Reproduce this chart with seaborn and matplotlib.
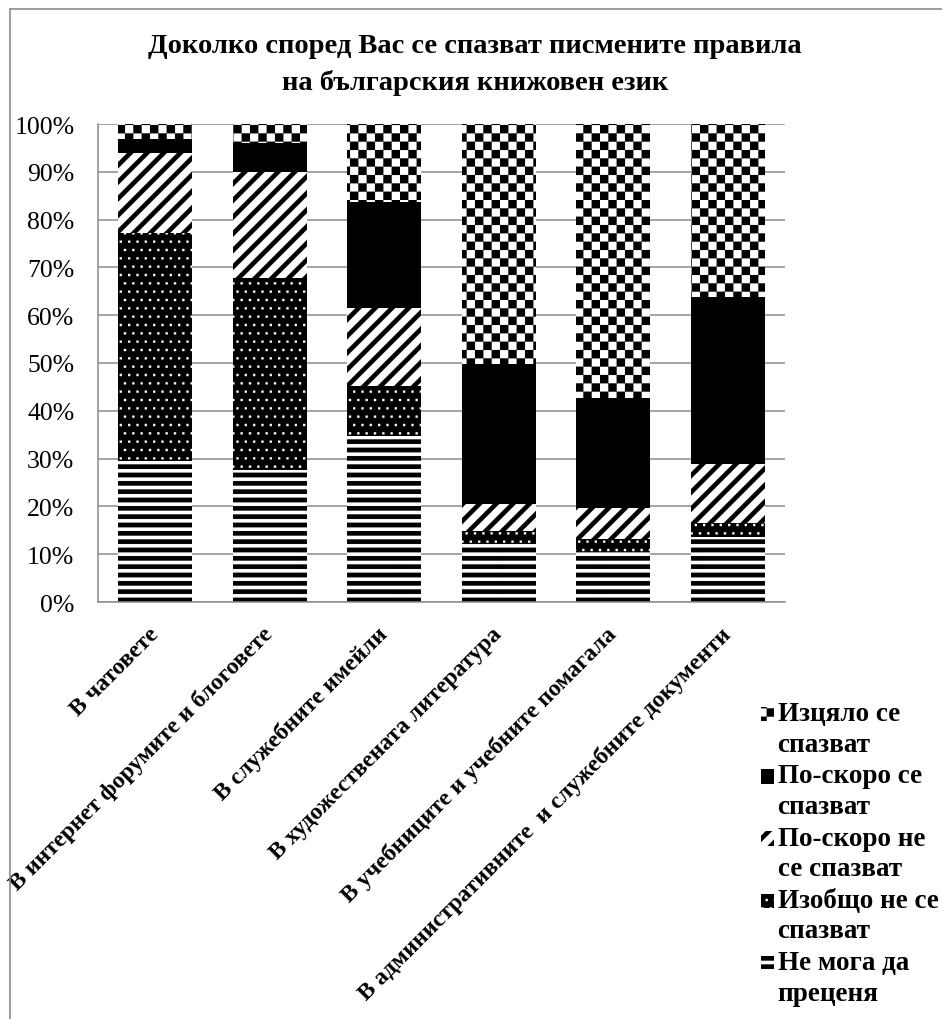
import numpy as np
import pandas as pd
import matplotlib
matplotlib.use("Agg")
import matplotlib.pyplot as plt
import matplotlib.hatch as mhatch
import matplotlib.patches as mpatches
from matplotlib.path import Path
from matplotlib.lines import Line2D
from matplotlib.container import BarContainer
from matplotlib.legend_handler import HandlerPatch
import seaborn as sns

# ---------------- data ----------------
categories = [
    "В чатовете",
    "В интернет форумите и блоговете",
    "В служебните имейли",
    "В художествената литература",
    "В учебниците и учебните помагала",
    "В административните  и служебните документи",
]
series_names = [
    "Не мога да преценя",
    "Изобщо не се спазват",
    "По-скоро не се спазват",
    "По-скоро се спазват",
    "Изцяло се спазват",
]
legend_labels = [
    "Не мога да\nпреценя",
    "Изобщо не се\nспазват",
    "По-скоро не\nсе спазват",
    "По-скоро се\nспазват",
    "Изцяло се\nспазват",
]
cant_judge = [29.5, 27.6, 34.8, 12.4, 10.5, 13.6]
not_at_all = [47.7, 40.1, 10.3, 2.4, 2.7, 3.0]
rather_not = [16.7, 22.2, 16.5, 5.6, 6.4, 12.2]
rather_yes = [3.0, 6.1, 22.0, 29.3, 23.0, 35.1]
fully = [3.1, 4.0, 16.4, 50.3, 57.4, 36.1]
series_values = [cant_judge, not_at_all, rather_not, rather_yes, fully]
y_ticks = [0, 10, 20, 30, 40, 50, 60, 70, 80, 90, 100]
title = "Доколко според Вас се спазват писмените правила\nна българския книжовен език"

# ---------------- custom filled hatch patterns ----------------
class FilledPatterns(mhatch.HatchPatternBase):
    def __init__(self, hatch, density):
        parts = []
        n = hatch.count('-') * density
        if n:
            hb = 0.046
            for j in range(n + 1):
                y = j / n
                parts.append([(0, y - hb / 2), (1, y - hb / 2), (1, y + hb / 2), (0, y + hb / 2)])
        n = hatch.count('/') * density
        if n:
            t = 0.032
            for k in range(-n, n + 1):
                b = k / n
                parts.append([(0, b - t), (1, 1 + b - t), (1, 1 + b + t), (0, b + t)])
        n = hatch.count('.') * density
        if n:
            r = 0.011
            for j in range(n + 1):
                for i in range(n + 2):
                    cx = (i + 0.5 * (j % 2)) / n
                    cy = j / n
                    parts.append([(cx - r, cy - r), (cx + r, cy - r), (cx + r, cy + r), (cx - r, cy + r)])
        n = hatch.count('*') * density
        if n:
            s = 1.0 / n
            for i in range(n):
                for j in range(n):
                    if (i + j) % 2 == 0:
                        x0, y0 = i * s, j * s
                        parts.append([(x0, y0), (x0 + s, y0), (x0 + s, y0 + s), (x0, y0 + s)])
        self.parts = parts
        self.num_vertices = 5 * len(parts)

    def set_vertices_and_codes(self, vertices, codes):
        k = 0
        for poly in self.parts:
            vertices[k:k + 4] = poly
            vertices[k + 4] = poly[0]
            codes[k] = Path.MOVETO
            codes[k + 1:k + 4] = Path.LINETO
            codes[k + 4] = Path.CLOSEPOLY
            k += 5

mhatch._hatch_types[:] = [FilledPatterns]

# ---------------- style ----------------
sns.set_theme(style="white")
plt.rcParams["font.family"] = ["Liberation Serif", "DejaVu Serif"]
plt.rcParams["hatch.linewidth"] = 0.1
plt.rcParams["text.color"] = "black"
plt.rcParams["xtick.color"] = "black"
plt.rcParams["ytick.color"] = "black"
plt.rcParams["axes.labelcolor"] = "black"

W, H = 942, 1020
fig = plt.figure(figsize=(W / 100, H / 100), dpi=100)
fig.patch.set_facecolor("white")
ax = fig.add_axes([98 / W, 1 - 603 / H, 687 / W, 478 / H])

df = pd.DataFrame({"category": categories})
for name, vals in zip(series_names, series_values):
    df[name] = vals

styles = {
    "Не мога да преценя": ("white", "--", "black"),
    "Изобщо не се спазват": ("black", "..", "white"),
    "По-скоро не се спазват": ("white", "/", "black"),
    "По-скоро се спазват": ("black", "", "black"),
    "Изцяло се спазват": ("white", "**", "black"),
}

bottom = np.zeros(len(categories))
for name, vals in zip(series_names, series_values):
    face, hatch, hcol = styles[name]
    sns.barplot(data=df, x="category", y=name, order=categories, color=face,
                saturation=1, width=0.645, bottom=bottom.copy(), errorbar=None,
                hatch=hatch, edgecolor=hcol, linewidth=0, label=name, ax=ax)
    bottom += np.array(vals)

for cont in ax.containers:
    for p in cont.patches:
        p.set_linewidth(0)

ax.set_xlim(-0.5, len(categories) - 0.5)
ax.set_ylim(0, 100)
ax.set_yticks(y_ticks)
ax.set_yticklabels([f"{v}%" for v in y_ticks], fontsize=18.5, color="black")
ax.set_xticks(range(len(categories)))
ax.set_xticklabels(categories, rotation=45, ha="right", va="center",
                   rotation_mode="anchor", fontsize=17.2, fontweight="bold", color="black")
ax.set_xlabel("")
ax.set_ylabel("")
ax.tick_params(axis="y", length=0, pad=17)
ax.tick_params(axis="x", length=0, pad=20.5)
ax.set_axisbelow(True)
ax.yaxis.grid(True, color="#8c8c8c", linewidth=1.1)
ax.xaxis.grid(False)
for side in ["top", "right"]:
    ax.spines[side].set_visible(False)
for side in ["left", "bottom"]:
    ax.spines[side].set_color("#8c8c8c")
    ax.spines[side].set_linewidth(1.1)
ax.set_facecolor("white")

# title
fig.text(475 / W, 1 - 34 / H, title, ha="center", va="top", fontsize=20.5,
         fontweight="bold", linespacing=1.57, color="black")

# figure border (clipped on right/bottom as in reference)
fig.add_artist(Line2D([10 / W, 10 / W], [0, 1 - 10 / H], transform=fig.transFigure,
                      color="#8c8c8c", linewidth=1.2))
fig.add_artist(Line2D([10 / W, 1], [1 - 10 / H, 1 - 10 / H], transform=fig.transFigure,
                      color="#8c8c8c", linewidth=1.2))

# legend
leg_fs = 19.5
line_pitch_px = 29
shift_pt = line_pitch_px / 2 * 72 / 100


def top_patch(legend, orig_handle, xdescent, ydescent, width, height, fontsize):
    return mpatches.Rectangle((-xdescent, -ydescent + shift_pt), width, height)


def upd(tgt, src):
    tgt.update_from(src.patches[0])
    tgt.set_linewidth(0)


handles = list(ax.containers)[::-1]
leg = ax.legend(handles, legend_labels[::-1], loc="upper left",
                bbox_to_anchor=(761 / W, 1 - 702 / H), bbox_transform=fig.transFigure,
                frameon=False, borderpad=0, borderaxespad=0,
                handlelength=0.48, handleheight=0.45, handletextpad=0.13,
                labelspacing=0.25,
                prop=dict(family="Liberation Serif", weight="bold", size=leg_fs),
                handler_map={BarContainer: HandlerPatch(patch_func=top_patch, update_func=upd)})
for t in leg.get_texts():
    t.set_linespacing(1.29)
    t.set_color("black")

fig.savefig("out.png", dpi=100, facecolor="white")
